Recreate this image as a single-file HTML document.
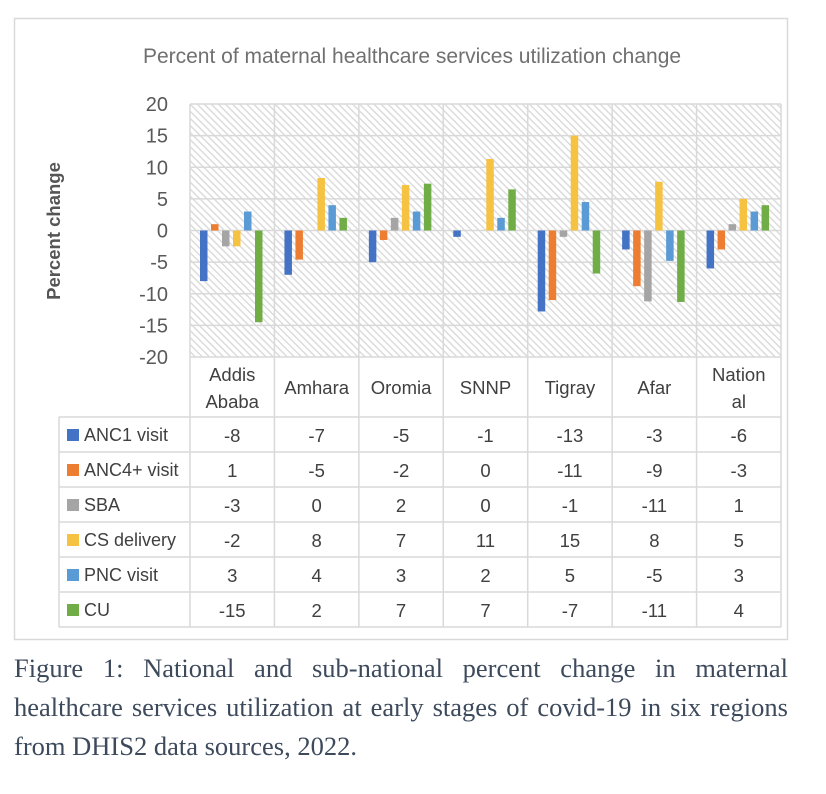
<!DOCTYPE html>
<html><head><meta charset="utf-8"><style>
body{margin:0;background:#fff;width:826px;height:794px;overflow:hidden;font-family:"Liberation Sans",sans-serif}
#cap{position:absolute;left:14px;top:649px;width:774px;font-family:"Liberation Serif",serif;font-size:26.5px;line-height:39px;color:#3d4a5c}
.jl{text-align:justify;text-align-last:justify;white-space:nowrap}
</style></head><body>
<svg id="chart" width="826" height="650" style="position:absolute;left:0;top:0" font-family="Liberation Sans, sans-serif">
<defs><pattern id="hatch" width="5" height="5" patternUnits="userSpaceOnUse" patternTransform="rotate(-45)"><rect width="5" height="5" fill="#fff"/><rect x="0" y="0" width="1.5" height="5" fill="#dcdcdc"/></pattern></defs>
<rect x="14.5" y="18.5" width="773" height="621" fill="#fff" stroke="#d9d9d9" stroke-width="1.5"/>
<text x="412" y="63" text-anchor="middle" font-size="21" fill="#707070">Percent of maternal healthcare services utilization change</text>
<text transform="translate(60,231) rotate(-90)" text-anchor="middle" font-size="18.5" font-weight="bold" fill="#555">Percent change</text>
<g id="g"></g>
</svg>
<div id="cap"><div class="jl">Figure 1: National and sub-national percent change in maternal</div><div class="jl">healthcare services utilization at early stages of covid-19 in six regions</div><div>from DHIS2 data sources, 2022.</div></div>
<script>
const categories=["Addis|Ababa","Amhara","Oromia","SNNP","Tigray","Afar","Nation|al"];
const seriesNames=["ANC1 visit","ANC4+ visit","SBA","CS delivery","PNC visit","CU"];
const colors=["#4472c4","#ed7d31","#a5a5a5","#f5c242","#5b9bd5","#70ad47"];
const anc1=[-8,-7,-5,-1,-12.8,-3,-6];
const anc4=[1,-4.6,-1.5,0,-11,-8.8,-3];
const sba=[-2.5,0,2,0,-1,-11.2,1];
const cs=[-2.5,8.3,7.2,11.3,15,7.7,5];
const pnc=[3,4,3,2,4.5,-4.8,3];
const cu=[-14.5,2,7.4,6.5,-6.8,-11.3,4];
const tableAnc1=["-8","-7","-5","-1","-13","-3","-6"];
const tableAnc4=["1","-5","-2","0","-11","-9","-3"];
const tableSba=["-3","0","2","0","-1","-11","1"];
const tableCs=["-2","8","7","11","15","8","5"];
const tablePnc=["3","4","3","2","5","-5","3"];
const tableCu=["-15","2","7","7","-7","-11","4"];
const yTicks=[20,15,10,5,0,-5,-10,-15,-20];
const series=[anc1,anc4,sba,cs,pnc,cu];
const tables=[tableAnc1,tableAnc4,tableSba,tableCs,tablePnc,tableCu];
const NS="http://www.w3.org/2000/svg",g=document.getElementById('g');
const L=190,R=781,T=104,B=357,cw=(R-L)/categories.length;
const y=v=>T+(20-v)*(B-T)/40;
const x=i=>L+i*cw;
function mk(t,a,p){const e=document.createElementNS(NS,t);for(const k in a)e.setAttribute(k,a[k]);(p||g).appendChild(e);return e;}
let e=mk('rect',{x:L,y:T,width:R-L,height:B-T,fill:'url(#hatch)'});


yTicks.forEach(v=>{
 let l=mk('line',{x1:L,x2:R,y1:y(v),y2:y(v),stroke:'#d9d9d9','stroke-width':1.5});
 
 
 let t=mk('text',{x:168,y:y(v)+7,'text-anchor':'end','font-size':20,fill:'#595959'});t.textContent=v;
 
 
});
const rowTop=417,rh=35,tb=rowTop+rh*6;
for(let i=0;i<=categories.length;i++){
 let l=mk('line',{x1:x(i),x2:x(i),y1:T,y2:tb,stroke:'#d9d9d9','stroke-width':1.5});
 
 
}
for(let r=0;r<=6;r++){
 let l=mk('line',{x1:59,x2:R,y1:rowTop+r*rh,y2:rowTop+r*rh,stroke:'#d9d9d9','stroke-width':1.5});
 
 
}
let ll=mk('line',{x1:59,x2:59,y1:rowTop,y2:tb,stroke:'#d9d9d9','stroke-width':1.5});


categories.forEach((c,i)=>{
 const parts=c.split('|'),cx=x(i)+cw/2;
 parts.forEach((p,k)=>{
  let t=mk('text',{x:cx,y:(parts.length>1?381+k*27:394),'text-anchor':'middle','font-size':18.5,fill:'#404040'});t.textContent=p;
  
  
 });
});
series.forEach((s,si)=>{
 s.forEach((v,i)=>{
  const bx=x(i)+10+si*11,y0=y(0),yv=y(v);
  let b=mk('rect',{x:bx,y:Math.min(y0,yv),width:7.5,height:Math.abs(yv-y0),fill:colors[si]});
  
  
 });
 const ry=rowTop+si*rh;
 let k=mk('rect',{x:67,y:ry+12,width:12,height:12,fill:colors[si]});
 
 
 let n=mk('text',{x:84,y:ry+24,'font-size':18,fill:'#404040'});n.textContent=seriesNames[si];
 
 
 tables[si].forEach((tv,i)=>{
  let t=mk('text',{x:x(i)+cw/2,y:ry+25,'text-anchor':'middle','font-size':18.5,fill:'#404040'});t.textContent=tv;
  
  
 });
});
</script>
</body></html>
